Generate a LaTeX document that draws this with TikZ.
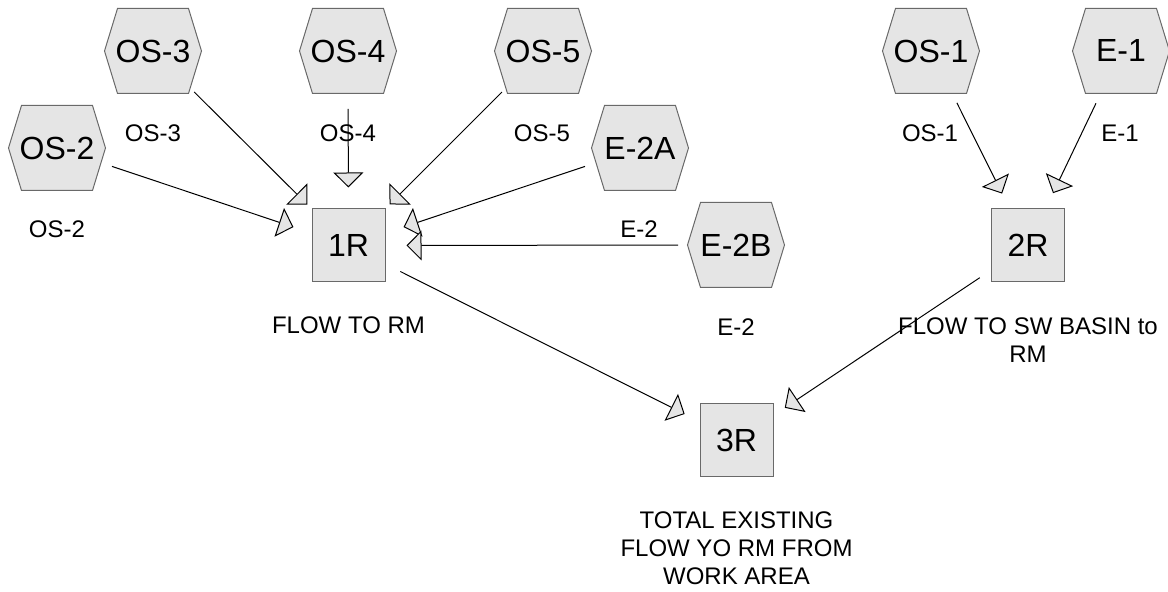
\documentclass[tikz,border=0pt]{standalone}
\usepackage{fontspec}
\setmainfont{Liberation Sans}
\usetikzlibrary{arrows.meta}

\definecolor{NodeGrey}{RGB}{229,229,229}
\definecolor{EdgeGrey}{RGB}{105,105,105}

\tikzset{
  hexnode/.style={rectangle, minimum width=50pt, minimum height=44pt, inner sep=0pt,
    font=\fontsize{16}{19}\selectfont,
    path picture={
      \draw[draw=EdgeGrey, fill=NodeGrey, line width=0.5pt]
        ([xshift=0.75pt]path picture bounding box.west)
        -- ([xshift=7.25pt,yshift=-0.75pt]path picture bounding box.north west)
        -- ([xshift=-7.25pt,yshift=-0.75pt]path picture bounding box.north east)
        -- ([xshift=-0.75pt]path picture bounding box.east)
        -- ([xshift=-7.25pt,yshift=0.75pt]path picture bounding box.south east)
        -- ([xshift=7.25pt,yshift=0.75pt]path picture bounding box.south west)
        -- cycle;}},
  reachnode/.style={rectangle, draw=EdgeGrey, fill=NodeGrey, line width=0.5pt,
    minimum size=36.5pt, inner sep=0pt, font=\fontsize{16}{19}\selectfont},
  desc/.style={align=center, inner sep=0pt, font=\fontsize{12}{14}\selectfont},
  flow/.style={draw=black, line width=0.5pt, shorten <=29pt, shorten >=29pt,
    -{Triangle[length=7.5pt, width=15pt, fill=NodeGrey]}}
}

\begin{document}
\begin{tikzpicture}[x=0.5pt, y=-0.5pt]
  \useasboundingbox (0,0) rectangle (1168,592);

  % subcatchments
  \node[hexnode] (os2) at (57,148) {OS-2};
  \node[hexnode] (os3) at (153,51) {OS-3};
  \node[hexnode] (os4) at (348,51) {OS-4};
  \node[hexnode] (os5) at (543,51) {OS-5};
  \node[hexnode] (e2a) at (640,148) {E-2A};
  \node[hexnode] (e2b) at (736,245) {E-2B};
  \node[hexnode] (os1) at (931,51) {OS-1};
  \node[hexnode] (e1) at (1121,51) {E-1};

  \node[desc] (os2lbl) at (57,229) {OS-2};
  \node[desc] (os3lbl) at (153,133) {OS-3};
  \node[desc] (os4lbl) at (348,133) {OS-4};
  \node[desc] (os5lbl) at (542,133) {OS-5};
  \node[desc] (e2lbl) at (736,327) {E-2};
  \node[desc] (os1lbl) at (930,133) {OS-1};
  \node[desc] (e1lbl) at (1120,133) {E-1};

  % reaches
  \node[reachnode] (r1) at (348.5,245.5) {1R};
  \node[reachnode] (r2) at (1028,245.5) {2R};
  \node[reachnode] (r3) at (736.5,440) {3R};

  \node[desc] (r1lbl) at (348.5,325) {FLOW TO RM};
  \node[desc] (r2lbl) at (1028,340.5) {FLOW TO SW BASIN to\\RM};
  \node[desc] (r3lbl) at (736.5,548) {TOTAL EXISTING\\FLOW YO RM FROM\\WORK AREA};

  % links
  \draw[flow] (os2.center) -- (r1.center);
  \draw[flow] (os3.center) -- (r1.center);
  \draw[flow] (os4.center) -- (r1.center);
  \draw[flow] (os5.center) -- (r1.center);
  \draw[flow] (e2a.center) -- (r1.center);
  \draw[flow] (e2b.center) -- node[pos=0.25, above, font=\fontsize{12}{14}\selectfont] {E-2} (r1.center);
  \draw[flow] (os1.center) -- (r2.center);
  \draw[flow] (e1.center) -- (r2.center);
  \draw[flow] (r1.center) -- (r3.center);
  \draw[flow] (r2.center) -- (r3.center);
\end{tikzpicture}
\end{document}
